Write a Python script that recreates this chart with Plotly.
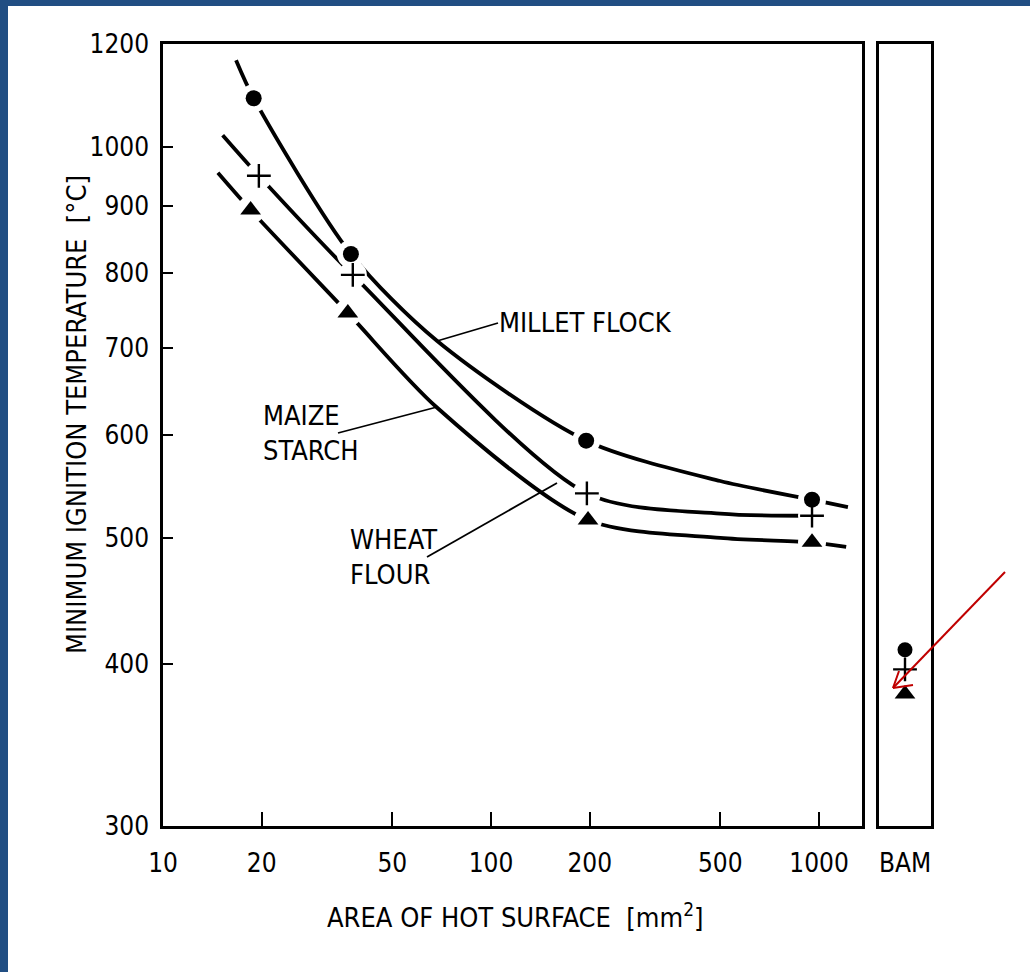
import plotly.graph_objects as go

# ---------------- data ----------------
x_ticks = [10, 20, 50, 100, 200, 500, 1000]
y_ticks = [300, 400, 500, 600, 700, 800, 900, 1000, 1200]

millet_x = [18.9, 37.4, 195, 952]
millet_y = [1090, 827, 594, 535]
maize_x = [19.6, 37.9, 196, 952]
maize_y = [950, 797, 541, 520]
wheat_x = [18.5, 36.6, 197.6, 952]
wheat_y = [894, 745, 516, 496]

# fitted curves drawn in the original (start, points, end)
millet_curve_x = [16.7, 18.9, 37.4, 68.4, 195, 500, 952, 1225]
millet_curve_y = [1166, 1090, 827, 709, 594, 553, 535, 528]
maize_curve_x = [15.2, 19.6, 37.9, 196, 500, 952]
maize_curve_y = [1021, 950, 797, 541, 522, 520]
wheat_curve_x = [14.7, 18.5, 36.6, 68.4, 197.6, 500, 952, 1210]
wheat_curve_y = [955, 894, 745, 630, 516, 500, 496, 492]

bam_labels = ["BAM"]
bam_millet = [410]
bam_maize = [396]
bam_wheat = [379]

# ---------------- layout helpers ----------------
W, H = 1030, 972
FONT = "DejaVu Sans Condensed, Liberation Sans Narrow, Arial Narrow, sans-serif"


def px(x):
    return x / W


def py(y):
    return 1 - y / H


fig = go.Figure()

line_style = dict(color="black", width=3.8, shape="spline", smoothing=0.8)
for cx, cy in [(millet_curve_x, millet_curve_y),
               (maize_curve_x, maize_curve_y),
               (wheat_curve_x, wheat_curve_y)]:
    fig.add_trace(go.Scatter(x=cx, y=cy, mode="lines", line=line_style,
                             xaxis="x", yaxis="y", hoverinfo="skip"))

# white halos to make gaps around the markers
for sx, sy in [(millet_x, millet_y), (maize_x, maize_y), (wheat_x, wheat_y)]:
    fig.add_trace(go.Scatter(x=sx, y=sy, mode="markers",
                             marker=dict(symbol="circle", size=28, color="white"),
                             xaxis="x", yaxis="y", hoverinfo="skip"))

mk_circle = dict(symbol="circle", size=16, color="black")
mk_plus = dict(symbol="cross-thin", size=17, line=dict(color="black", width=2.4))
mk_tri = dict(symbol="triangle-up", size=18, color="black")

fig.add_trace(go.Scatter(x=millet_x, y=millet_y, mode="markers", marker=mk_circle,
                         xaxis="x", yaxis="y", name="MILLET FLOCK"))
fig.add_trace(go.Scatter(x=maize_x, y=maize_y, mode="markers", marker=mk_plus,
                         xaxis="x", yaxis="y", name="MAIZE STARCH"))
fig.add_trace(go.Scatter(x=wheat_x, y=wheat_y, mode="markers", marker=mk_tri,
                         xaxis="x", yaxis="y", name="WHEAT FLOUR"))

# BAM panel
fig.add_trace(go.Scatter(x=bam_labels, y=bam_millet, mode="markers", marker=dict(mk_circle, size=15),
                         xaxis="x2", yaxis="y2"))
fig.add_trace(go.Scatter(x=bam_labels, y=bam_maize, mode="markers", marker=mk_plus,
                         xaxis="x2", yaxis="y2"))
fig.add_trace(go.Scatter(x=bam_labels, y=bam_wheat, mode="markers", marker=mk_tri,
                         xaxis="x2", yaxis="y2"))

axis_common = dict(showline=True, linecolor="black", linewidth=2.5, mirror=True,
                   showgrid=False, zeroline=False, automargin=False,
                   tickfont=dict(family=FONT, size=26, color="black"))

fig.update_layout(
    width=W, height=H,
    margin=dict(l=0, r=0, t=0, b=0, autoexpand=False),
    paper_bgcolor="white", plot_bgcolor="white",
    showlegend=False,
    font=dict(family=FONT, color="black"),
    xaxis=dict(axis_common, domain=[px(163), px(862)], anchor="y", type="log",
               range=[1, 3.131], tickmode="array", tickvals=x_ticks,
               ticktext=[str(v) for v in x_ticks],
               ticks="inside", ticklen=14, tickwidth=2, tickcolor="black",
               ticklabelstandoff=12),
    yaxis=dict(axis_common, domain=[py(826), py(44)], anchor="x", type="log",
               range=[2.4771, 3.0792], tickmode="array", tickvals=y_ticks,
               ticktext=[str(v) for v in y_ticks],
               ticks="inside", ticklen=10, tickwidth=2, tickcolor="black",
               ticklabelstandoff=6),
    xaxis2=dict(axis_common, domain=[px(879), px(931)], anchor="y2", type="category",
                ticks="", ticklabelstandoff=12),
    yaxis2=dict(axis_common, domain=[py(826), py(44)], anchor="x2", type="log",
                range=[2.4771, 3.0792], showticklabels=False, ticks=""),
)

# longer ticks at 1000 (as in the original)
fig.add_shape(type="line", xref="x domain", yref="y", x0=0, x1=22 / 699, y0=3, y1=3,
              line=dict(color="black", width=2))
fig.add_shape(type="line", xref="x", yref="y domain", x0=3, x1=3, y0=0, y1=26 / 782,
              line=dict(color="black", width=2))

# text labels
lab_font = dict(family=FONT, size=27, color="black")
annos = [
    dict(x=px(497), y=py(322), text="MILLET FLOCK", xanchor="left", yanchor="middle"),
    dict(x=px(261), y=py(433), text="MAIZE<br>STARCH", xanchor="left", yanchor="middle", align="left"),
    dict(x=px(348), y=py(557), text="WHEAT<br>FLOUR", xanchor="left", yanchor="middle", align="left"),
    dict(x=px(515), y=py(915), text="AREA OF HOT SURFACE  [mm<sup>2</sup>]", xanchor="center",
         yanchor="middle"),
    dict(x=px(76), y=py(415), text="MINIMUM IGNITION TEMPERATURE  [°C]", textangle=-90,
         xanchor="center", yanchor="middle"),
]
for a in annos:
    fig.add_annotation(xref="paper", yref="paper", showarrow=False, font=lab_font, **a)

# leader lines
leaders = [((437, 341), (498, 323)),
           ((338, 433), (437, 407)),
           ((427, 557), (557, 483))]
for (x0, y0), (x1, y1) in leaders:
    fig.add_shape(type="line", xref="paper", yref="paper",
                  x0=px(x0), y0=py(y0), x1=px(x1), y1=py(y1),
                  line=dict(color="black", width=1.8))

# blue frame (top and left)
frame_col = "#214E83"
fig.add_shape(type="rect", xref="paper", yref="paper", x0=0, x1=px(8), y0=0, y1=1,
              fillcolor=frame_col, line=dict(width=0))
fig.add_shape(type="rect", xref="paper", yref="paper", x0=0, x1=1, y0=py(6), y1=1,
              fillcolor=frame_col, line=dict(width=0))

# red arrow to the BAM points
red = "#C00000"
tip = (893, 688)
for start in [(1005, 572), (899, 671), (913, 685)]:
    fig.add_shape(type="line", xref="paper", yref="paper",
                  x0=px(start[0]), y0=py(start[1]), x1=px(tip[0]), y1=py(tip[1]),
                  line=dict(color=red, width=2))

fig.write_html("out.html", config={"displayModeBar": False},
               post_script="document.body.style.margin='0';document.body.style.overflow='hidden';")
